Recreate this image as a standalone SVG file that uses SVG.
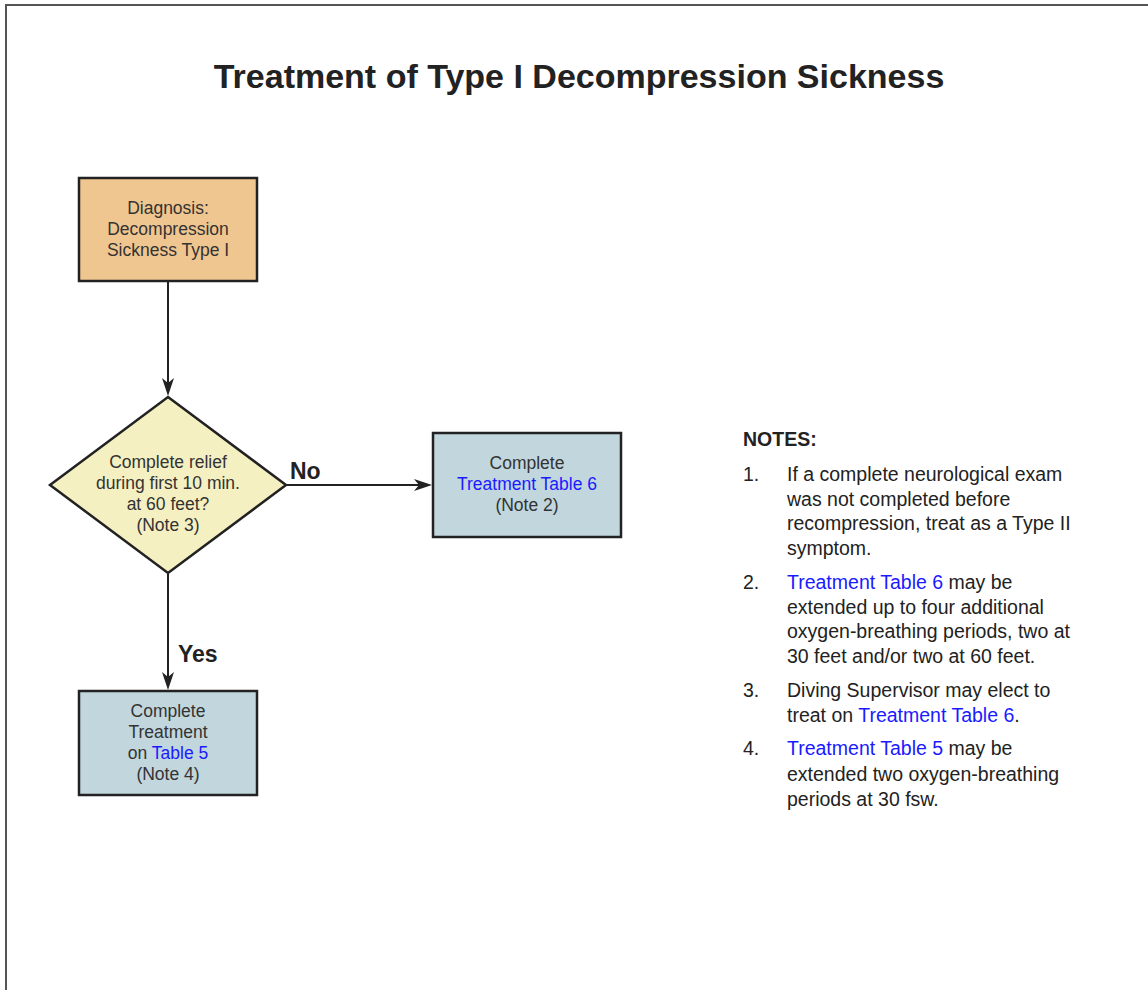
<svg xmlns="http://www.w3.org/2000/svg" width="1148" height="990" viewBox="0 0 1148 990">
<defs>
<style>
.frame{fill:none;stroke:#555;stroke-width:2}
.title{font-family:"Liberation Sans",Arial,sans-serif;font-weight:bold;font-size:34px;fill:#222;text-anchor:middle}
.node rect,.node polygon{stroke:#222;stroke-width:2.5}
.ntext{font-family:"Liberation Sans",Arial,sans-serif;font-size:17.5px;fill:#333;text-anchor:middle}
.link{fill:#1a1aff}
.edge{stroke:#222;stroke-width:2;fill:none}
.ahead{fill:#222}
.elabel{font-family:"Liberation Sans",Arial,sans-serif;font-weight:bold;font-size:23px;fill:#222}
.notes{font-family:"Liberation Sans",Arial,sans-serif;font-size:19.5px;fill:#222}
.nh{font-weight:bold}
</style>
</defs>
<rect width="1148" height="990" fill="#fff"/>
<path class="frame" d="M6,990 V5 H1148"/>
<text class="title" x="579" y="88">Treatment of Type I Decompression Sickness</text>

<g id="connectors">
<path class="edge" d="M168,282 V390"/>
<path class="ahead" d="M168,396 L162,378 L168,383 L174,378 Z"/>
<path class="edge" d="M286,485 H426"/>
<path class="ahead" d="M432,485 L414,479 L419,485 L414,491 Z"/>
<path class="edge" d="M168,574 V684"/>
<path class="ahead" d="M168,690 L162,672 L168,677 L174,672 Z"/>
<text class="elabel" x="290" y="479">No</text>
<text class="elabel" x="178" y="662">Yes</text>
</g>

<g id="diagnosis" class="node">
<rect x="79" y="178" width="178" height="103" fill="#f0c690"/>
<text class="ntext" x="168" y="214">Diagnosis:</text>
<text class="ntext" x="168" y="235">Decompression</text>
<text class="ntext" x="168" y="256">Sickness Type I</text>
</g>

<g id="decision" class="node">
<polygon points="168,397 286,485 168,573 50,485" fill="#f5f0c2"/>
<text class="ntext" x="168" y="468">Complete relief</text>
<text class="ntext" x="168" y="489">during first 10 min.</text>
<text class="ntext" x="168" y="510">at 60 feet?</text>
<text class="ntext" x="168" y="531">(Note 3)</text>
</g>

<g id="table6" class="node">
<rect x="433" y="433" width="188" height="104" fill="#c1d6dd"/>
<text class="ntext" x="527" y="469">Complete</text>
<text class="ntext" x="527" y="490"><tspan class="link">Treatment Table 6</tspan></text>
<text class="ntext" x="527" y="511">(Note 2)</text>
</g>

<g id="table5" class="node">
<rect x="79" y="691" width="178" height="104" fill="#c1d6dd"/>
<text class="ntext" x="168" y="717">Complete</text>
<text class="ntext" x="168" y="738">Treatment</text>
<text class="ntext" x="168" y="759">on <tspan class="link">Table 5</tspan></text>
<text class="ntext" x="168" y="780">(Note 4)</text>
</g>

<g id="notes" class="notes">
<text class="nh" x="743" y="446">NOTES:</text>
<text x="743" y="481">1.</text>
<text x="787" y="481">If a complete neurological exam</text>
<text x="787" y="506">was not completed before</text>
<text x="787" y="530">recompression, treat as a Type II</text>
<text x="787" y="555">symptom.</text>
<text x="743" y="589">2.</text>
<text x="787" y="589"><tspan class="link">Treatment Table 6</tspan> may be</text>
<text x="787" y="614">extended up to four additional</text>
<text x="787" y="638">oxygen-breathing periods, two at</text>
<text x="787" y="663">30 feet and/or two at 60 feet.</text>
<text x="743" y="697">3.</text>
<text x="787" y="697">Diving Supervisor may elect to</text>
<text x="787" y="722">treat on <tspan class="link">Treatment Table 6</tspan>.</text>
<text x="743" y="755">4.</text>
<text x="787" y="755"><tspan class="link">Treatment Table 5</tspan> may be</text>
<text x="787" y="781">extended two oxygen-breathing</text>
<text x="787" y="806">periods at 30 fsw.</text>
</g>
</svg>
